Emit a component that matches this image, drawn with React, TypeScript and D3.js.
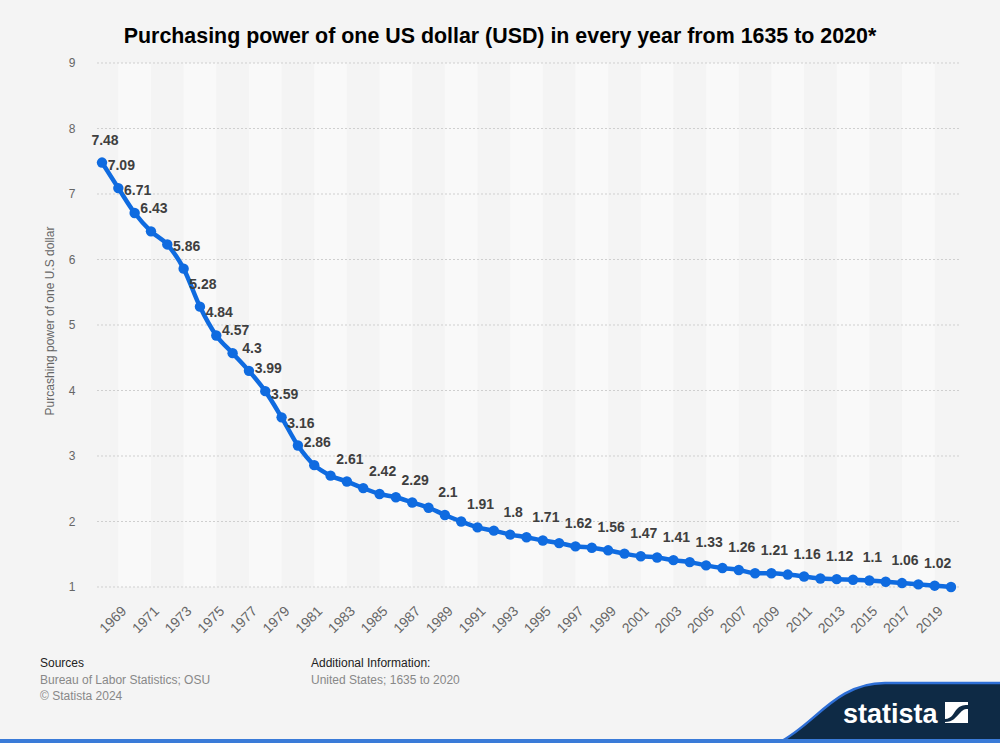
import React from "react";
import * as d3 from "d3";

const years: number[] = [
  1968, 1969, 1970, 1971, 1972, 1973, 1974, 1975, 1976, 1977, 1978, 1979, 1980,
  1981, 1982, 1983, 1984, 1985, 1986, 1987, 1988, 1989, 1990, 1991, 1992, 1993,
  1994, 1995, 1996, 1997, 1998, 1999, 2000, 2001, 2002, 2003, 2004, 2005, 2006,
  2007, 2008, 2009, 2010, 2011, 2012, 2013, 2014, 2015, 2016, 2017, 2018, 2019, 2020,
];
const values: number[] = [
  7.48, 7.09, 6.71, 6.43, 6.23, 5.86, 5.28, 4.84, 4.57, 4.3, 3.99, 3.59, 3.16,
  2.86, 2.7, 2.61, 2.51, 2.42, 2.37, 2.29, 2.21, 2.1, 2.0, 1.91, 1.86, 1.8,
  1.76, 1.71, 1.67, 1.62, 1.6, 1.56, 1.51, 1.47, 1.45, 1.41, 1.38, 1.33, 1.29,
  1.26, 1.21, 1.21, 1.19, 1.16, 1.13, 1.12, 1.11, 1.1, 1.08, 1.06, 1.04, 1.02, 1.0,
];
const hiddenLabelYears: number[] = [
  1972, 1982, 1984, 1986, 1988, 1990, 1992, 1994, 1996, 1998, 2000, 2002, 2004,
  2006, 2008, 2010, 2012, 2014, 2016, 2018, 2020,
];
const xTickYears: number[] = [
  1969, 1971, 1973, 1975, 1977, 1979, 1981, 1983, 1985, 1987, 1989, 1991, 1993,
  1995, 1997, 1999, 2001, 2003, 2005, 2007, 2009, 2011, 2013, 2015, 2017, 2019,
];
const yTicks: number[] = [1, 2, 3, 4, 5, 6, 7, 8, 9];

const title = "Purchasing power of one US dollar (USD) in every year from 1635 to 2020*";
const yTitle = "Purcashing power of one U.S dollar";

const W = 1000;
const H = 743;
const FONT = "'Liberation Sans', Arial, Helvetica, sans-serif";

export default function App() {
  const x = d3.scaleLinear().domain([1968, 2020]).range([102, 951]);
  const y = d3.scaleLinear().domain([1, 9]).range([587, 63]);
  const plotLeft = 97;
  const plotRight = 960;

  const line = d3
    .line<number>()
    .x((_, i) => x(years[i]))
    .y((d) => y(d))
    .curve(d3.curveMonotoneX);

  const bands: [number, number][] = [];
  for (let yr = 1969; yr + 2 <= 2019; yr += 4) bands.push([yr, yr + 2]);

  return (
    <svg
      width={W}
      height={H}
      style={{ position: "absolute", left: 0, top: 0, display: "block" }}
      fontFamily={FONT}
    >
      <rect x={0} y={0} width={W} height={H} fill="#f4f4f4" />
      {/* title */}
      <text x={500} y={43} textAnchor="middle" fontSize={21.4} fontWeight="bold" fill="#000">
        {title}
      </text>

      {/* bands */}
      {bands.map(([a, b]) => (
        <rect key={a} x={x(a)} y={y(9)} width={x(b) - x(a)} height={y(1) - y(9)} fill="#f9f9f9" />
      ))}

      {/* gridlines */}
      {yTicks.map((t) => (
        <g key={t}>
          <line
            x1={plotLeft}
            x2={plotRight}
            y1={y(t)}
            y2={y(t)}
            stroke="#cfcfcf"
            strokeWidth={1}
            strokeDasharray="2,2"
          />
          <text x={72} y={y(t) + 4} textAnchor="middle" fontSize={12} fill="#666">
            {t}
          </text>
        </g>
      ))}

      {/* y title */}
      <text
        transform={`translate(54,${321}) rotate(-90)`}
        textAnchor="middle"
        fontSize={12}
        fill="#666"
      >
        {yTitle}
      </text>

      {/* x ticks */}
      {xTickYears.map((yr) => (
        <text
          key={yr}
          transform={`translate(${x(yr) + 9},${612}) rotate(-45)`}
          textAnchor="end"
          fontSize={14}
          fill="#666"
        >
          {yr}
        </text>
      ))}

      {/* line */}
      <path d={line(values) || ""} fill="none" stroke="#0f6be0" strokeWidth={4.5} strokeLinejoin="round" />
      {values.map((v, i) => (
        <circle key={years[i]} cx={x(years[i])} cy={y(v)} r={5.2} fill="#0f6be0" />
      ))}

      {/* data labels */}
      {values.map((v, i) =>
        hiddenLabelYears.includes(years[i]) ? null : (
          <text
            key={"l" + years[i]}
            x={x(years[i]) + 3}
            y={y(v) - 18}
            textAnchor="middle"
            fontSize={14}
            fontWeight="bold"
            fill="#3f3f3f"
          >
            {String(v)}
          </text>
        )
      )}

      {/* footer */}
      <text x={40} y={667} fontSize={12} fill="#222">Sources</text>
      <text x={40} y={684} fontSize={12} fill="#888">Bureau of Labor Statistics; OSU</text>
      <text x={40} y={700} fontSize={12} fill="#888">© Statista 2024</text>
      <text x={311} y={667} fontSize={12} fill="#222">Additional Information:</text>
      <text x={311} y={684} fontSize={12} fill="#888">United States; 1635 to 2020</text>

      {/* logo */}
      <path
        d="M778,743 C815,725 835,683 885,683 L1000,683 L1000,743 Z"
        fill="#0e2a45"
      />
      <path
        d="M778,743 C815,725 835,683 885,683 L1000,683"
        fill="none"
        stroke="#2e6fd6"
        strokeWidth={2.5}
      />
      <text x={843} y={723} fontSize={27} fontWeight="bold" fill="#fff" fontFamily={FONT}>
        statista
      </text>
      <rect x={945} y={702} width={23} height={21} fill="#fff" />
      <path
        d="M945,719 C952,719 954,712 957,709 C960,706 962,705 968,705 L968,709 C963,709 962,711 959,714 C956,717 953,722 945,722 Z"
        fill="#0e2a45"
      />
      <rect x={0} y={739} width={W} height={4} fill="#3a7bd8" />
    </svg>
  );
}
